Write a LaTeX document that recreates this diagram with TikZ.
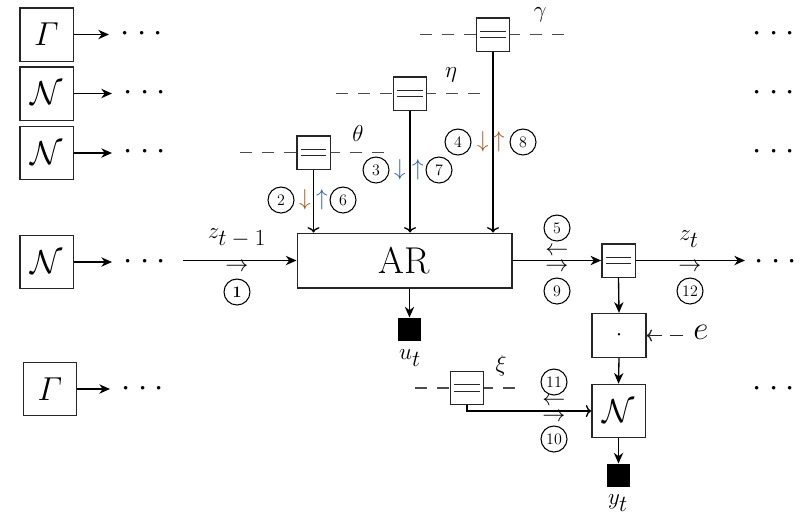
\documentclass[tikz,border=0pt]{standalone}
\usepackage{amsmath}
\usetikzlibrary{arrows.meta,calc}
\definecolor{brn}{RGB}{165,85,25}
\definecolor{blu}{RGB}{45,95,165}
\begin{document}
\begin{tikzpicture}[x=0.75pt,y=-0.75pt, line width=1pt,
 bigbox/.style={draw=black!85, minimum size=40pt, inner sep=0pt, font=\fontsize{28}{30}\selectfont},
 fac/.style={draw=black!85, fill=white, minimum size=25pt, inner sep=0pt,
   path picture={
     \draw[line width=0.9pt] ([shift={(-9.5pt,2.5pt)}]path picture bounding box.center) -- ++(19pt,0pt);
     \draw[line width=0.9pt] ([shift={(-9.5pt,-2.5pt)}]path picture bounding box.center) -- ++(19pt,0pt);}},
 cnum/.style={circle, draw, line width=0.8pt, minimum size=19.5pt, inner sep=0pt, font=\fontsize{12}{13}\selectfont},
 dotsn/.style={font=\fontsize{24}{26}\selectfont, inner sep=0pt},
 arr/.style={-{Stealth[length=8pt,width=7pt,inset=2.5pt]}},
 oarr/.style={-{To[length=4pt,width=9pt]}},
 dsh/.style={dash pattern=on 9pt off 7.5pt, draw=black!70},
 lab/.style={font=\fontsize{17}{19}\selectfont, inner sep=0pt},
 sarr/.style={font=\fontsize{16}{18}\selectfont, inner sep=0pt, text height=5pt, text depth=0pt},
 vsarr/.style={font=\fontsize{18}{20}\selectfont, inner sep=0pt},
 blk/.style={fill=black, minimum size=17pt, inner sep=0pt},
]
\useasboundingbox (0,0) rectangle (802,515);
\newcommand{\tdots}{${\cdot}\mkern4mu{\cdot}\mkern4mu{\cdot}$}

% left prior boxes
\node[bigbox] (g1) at (46.5,34.5) {$\varGamma$};
\node[bigbox] (n1) at (46.5,93.5) {$\mathcal{N}$};
\node[bigbox] (n2) at (46.5,153) {$\mathcal{N}$};
\node[bigbox] (n3) at (46.5,262) {$\mathcal{N}$};
\node[bigbox] (g2) at (50,389) {$\varGamma$};
\coordinate (g1e) at (109,34.5);
\coordinate (n1e) at (112,93.5);
\coordinate (n2e) at (112,153);
\coordinate (n3e) at (112,262);
\coordinate (g2e) at (110,389);
\draw[arr] (g1) -- (g1e);
\draw[arr] (n1) -- (n1e);
\draw[arr] (n2) -- (n2e);
\draw[arr] (n3) -- (n3e);
\draw[arr] (g2) -- (g2e);
\node[dotsn] (d1) at (142,34) {\tdots};
\node[dotsn] (d2) at (145,93) {\tdots};
\node[dotsn] (d3) at (145,152) {\tdots};
\node[dotsn] (d4) at (145,262) {\tdots};
\node[dotsn] (d5) at (143,389) {\tdots};
% right dots
\node[dotsn] (r1) at (774,34) {\tdots};
\node[dotsn] (r2) at (774,93) {\tdots};
\node[dotsn] (r3) at (774,152) {\tdots};
\node[dotsn] (r4) at (776,262) {\tdots};
\node[dotsn] (r5) at (774,389) {\tdots};

% AR block
\node[draw=black!85, minimum width=161pt, minimum height=41pt, inner sep=0pt,
      font=\fontsize{28}{30}\selectfont] (AR) at (404.5,260.5) {AR};
\coordinate (zin) at (183,260.5);
\draw[arr] (zin) -- (AR.west);
\node[lab] (zl) at (237,238) {$z_{\textstyle t-1}$};
\node[sarr] (a1) at (237,268) {$\rightarrow$};
\node[cnum] (c1) at (237,292) {\textbf{1}};

% parameter factors
\draw[dsh] (240,152.5) -- (388,152.5);
\draw[dsh] (336,93.5) -- (486,93.5);
\draw[dsh] (420,34.5) -- (566,34.5);
\node[fac] (th) at (313.5,152.5) {};
\node[fac] (et) at (410,93.5) {};
\node[fac] (ga) at (493,34.5) {};
\node[lab] (thl) at (358,133) {$\theta$};
\node[lab] (etl) at (451,75) {$\eta$};
\node[lab] (gal) at (540,15) {$\gamma$};
\draw[oarr] (th.south) -- (th.south |- AR.north);
\draw[oarr] (et.south) -- (et.south |- AR.north);
\draw[oarr] (ga.south) -- (ga.south |- AR.north);

\node[cnum] (c2) at (281,200) {2};
\node[vsarr,text=brn] (u2) at (305,200) {$\downarrow$};
\node[vsarr,text=blu] (v6) at (322,200) {$\uparrow$};
\node[cnum] (c6) at (343,200) {6};

\node[cnum] (c3) at (376,170) {3};
\node[vsarr,text=blu] (u3) at (400,170) {$\downarrow$};
\node[vsarr,text=blu] (v7) at (418,170) {$\uparrow$};
\node[cnum] (c7) at (439,170) {7};

\node[cnum] (c4) at (458,142) {4};
\node[vsarr,text=brn] (u4) at (483,142) {$\downarrow$};
\node[vsarr,text=brn] (v8) at (499,142) {$\uparrow$};
\node[cnum] (c8) at (523,142) {8};

% u_t
\node[blk] (ut) at (409.5,329.5) {};
\node[lab] (utl) at (410,358) {$u_{\textstyle t}$};
\draw[arr] (AR.south -| ut) -- (ut.north);

% z_t factor
\node[fac] (zf) at (618.5,260.5) {};
\draw[arr] (AR.east |- zf) -- (zf.west);
\node[cnum] (c5) at (557,228) {5};
\node[sarr] (a5) at (557,252) {$\leftarrow$};
\node[sarr] (a9) at (557,268) {$\rightarrow$};
\node[cnum] (c9) at (557,291) {9};

\coordinate (zout) at (745,260.5);
\draw[arr] (zf.east) -- (zout);
\node[lab] (ztl) at (689,239) {$z_{\textstyle t}$};
\node[sarr] (a12) at (690,268) {$\rightarrow$};
\node[cnum] (c12) at (690,291) {12};

% product with e
\node[draw=black!85, minimum width=40.5pt, minimum height=33pt, inner sep=0pt,
      font=\fontsize{16}{18}\selectfont] (dot) at (619,335.5) {$\cdot$};
\draw[arr] (zf.south) -- (dot.north);
\coordinate (ein) at (683,335.5);
\draw[oarr, dash pattern=on 10pt off 6pt, draw=black!85] (ein) -- (dot.east);
\node[font=\fontsize{26}{28}\selectfont, inner sep=0pt] (el) at (701,332) {$e$};

% observation
\node[bigbox] (N) at (618.5,411) {$\mathcal{N}$};
\draw[arr] (dot.south) -- (N.north);
\node[blk] (yt) at (618.5,475.5) {};
\draw[arr] (N.south) -- (yt.north);
\node[lab] (ytl) at (618,503) {$y_{\textstyle t}$};

% xi factor
\draw[dsh] (415,388) -- (520,388);
\node[fac] (xi) at (467,388) {};
\node[lab] (xil) at (501,366) {$\xi$};
\draw[oarr] (xi.south) |- (N.west);
\node[cnum] (c11) at (554,382) {11};
\node[sarr] (a11) at (554,402) {$\leftarrow$};
\node[sarr] (a10) at (554,418) {$\rightarrow$};
\node[cnum] (c10) at (554,439) {10};
\end{tikzpicture}
\end{document}
